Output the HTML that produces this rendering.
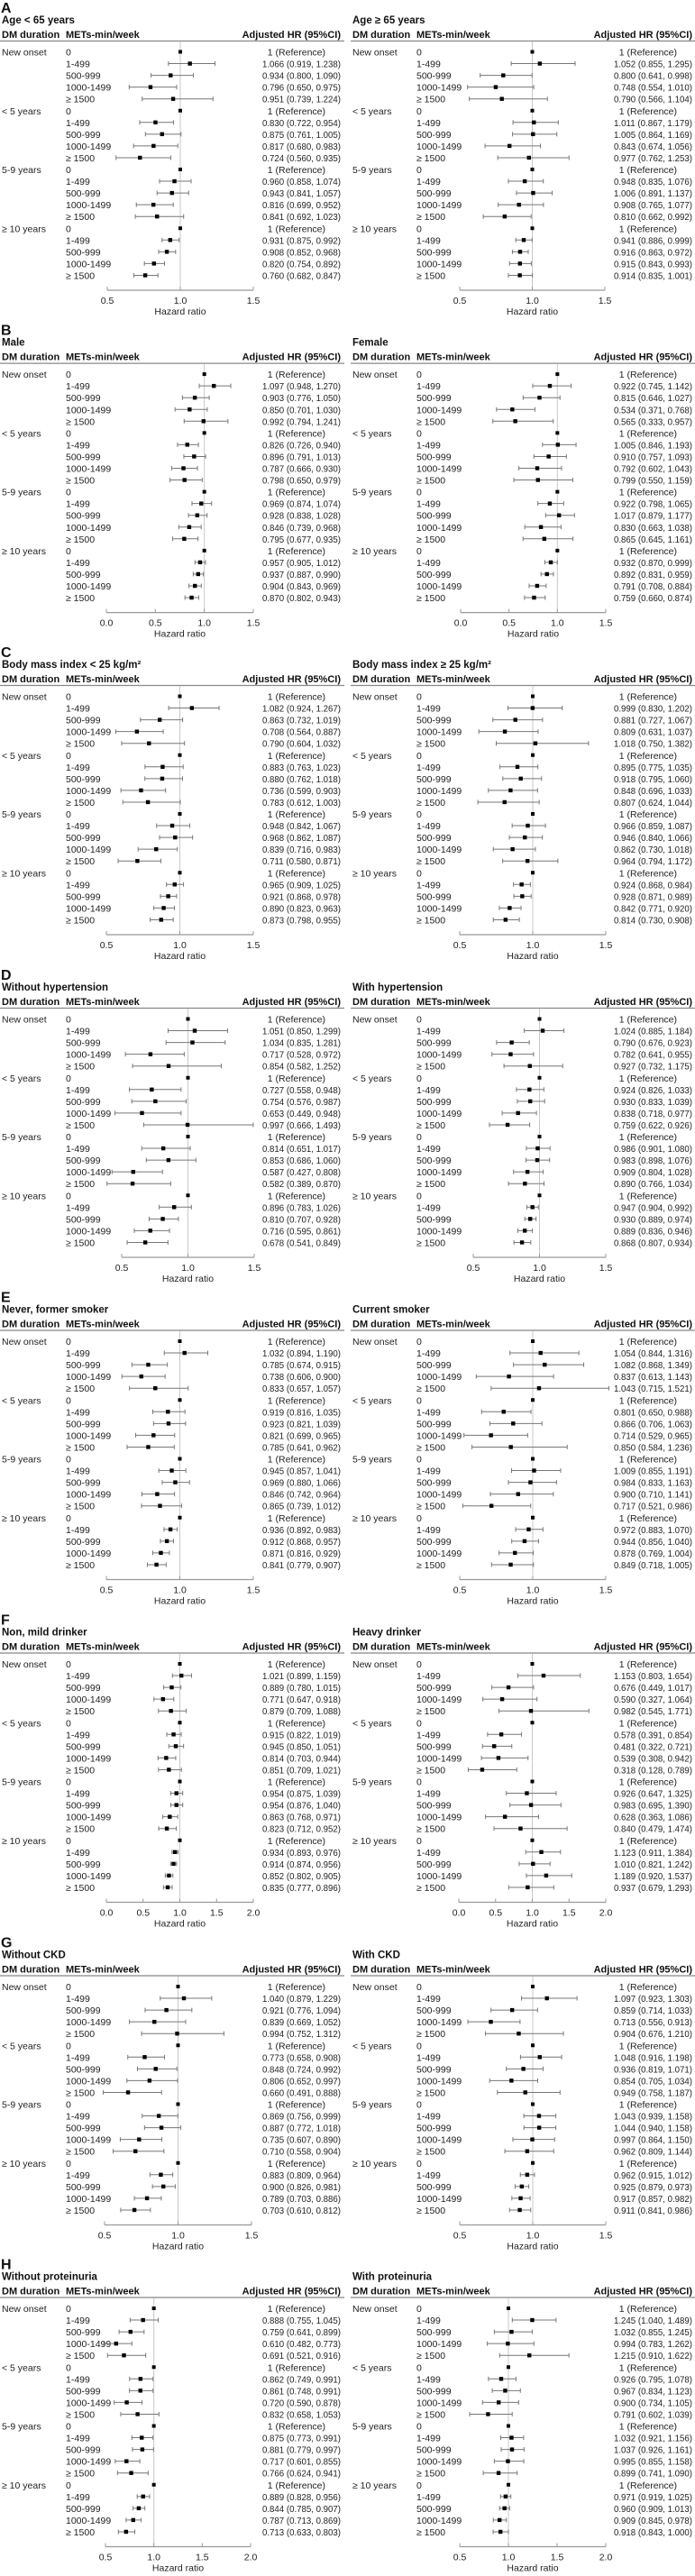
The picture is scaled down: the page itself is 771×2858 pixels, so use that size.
<!DOCTYPE html>
<html><head><meta charset="utf-8">
<style>
html,body{margin:0;padding:0;background:#fff;}
svg{display:block;font-family:"Liberation Sans",sans-serif;}
</style></head>
<body>
<svg id="chart" width="771" height="2858" viewBox="0 0 771 2858" xmlns="http://www.w3.org/2000/svg"></svg>
<script>
const panelLetters = ["A","B","C","D","E","F","G","H"];
const panelTops = [0,357.6,715,1073,1430.5,1788.5,2146.5,2503.5];
const subtitles = [
 ["Age < 65 years","Age \u2265 65 years"],
 ["Male","Female"],
 ["Body mass index < 25 kg/m\u00B2","Body mass index \u2265 25 kg/m\u00B2"],
 ["Without hypertension","With hypertension"],
 ["Never, former smoker","Current smoker"],
 ["Non, mild drinker","Heavy drinker"],
 ["Without CKD","With CKD"],
 ["Without proteinuria","With proteinuria"]
];
const durations = ["New onset","< 5 years","5-9 years","\u2265 10 years"];
const metsCats = ["0","1-499","500-999","1000-1499","\u2265 1500"];
// axis ranges [min,max] per panel, per side
const axisRangeL = [[0.5,1.5],[0,1.5],[0.5,1.5],[0.5,1.5],[0.5,1.5],[0,2],[0.5,1.5],[0.5,2]];
const axisRangeR = [[0.5,1.5],[0,1.5],[0.5,1.5],[0.5,1.5],[0.5,1.5],[0,2],[0.5,1.5],[0.5,2]];
const tickStepL = [0.5,0.5,0.5,0.5,0.5,0.5,0.5,0.5];
// HR, lower, upper for the 16 non-reference rows (per panel, per side)
const hrL = [
 [1.066,0.934,0.796,0.951,0.830,0.875,0.817,0.724,0.960,0.943,0.816,0.841,0.931,0.908,0.820,0.760],
 [1.097,0.903,0.850,0.992,0.826,0.896,0.787,0.798,0.969,0.928,0.846,0.795,0.957,0.937,0.904,0.870],
 [1.082,0.863,0.708,0.790,0.883,0.880,0.736,0.783,0.948,0.968,0.839,0.711,0.965,0.921,0.890,0.873],
 [1.051,1.034,0.717,0.854,0.727,0.754,0.653,0.997,0.814,0.853,0.587,0.582,0.896,0.810,0.716,0.678],
 [1.032,0.785,0.738,0.833,0.919,0.923,0.821,0.785,0.945,0.969,0.846,0.865,0.936,0.912,0.871,0.841],
 [1.021,0.889,0.771,0.879,0.915,0.945,0.814,0.851,0.954,0.954,0.863,0.823,0.934,0.914,0.852,0.835],
 [1.040,0.921,0.839,0.994,0.773,0.848,0.806,0.660,0.869,0.887,0.735,0.710,0.883,0.900,0.789,0.703],
 [0.888,0.759,0.610,0.691,0.862,0.861,0.720,0.832,0.875,0.881,0.717,0.766,0.889,0.844,0.787,0.713]
];
const loL = [
 [0.919,0.800,0.650,0.739,0.722,0.761,0.680,0.560,0.858,0.841,0.699,0.692,0.875,0.852,0.754,0.682],
 [0.948,0.776,0.701,0.794,0.726,0.791,0.666,0.650,0.874,0.838,0.739,0.677,0.905,0.887,0.843,0.802],
 [0.924,0.732,0.564,0.604,0.763,0.762,0.599,0.612,0.842,0.862,0.716,0.580,0.909,0.868,0.823,0.798],
 [0.850,0.835,0.528,0.582,0.558,0.576,0.449,0.666,0.651,0.686,0.427,0.389,0.783,0.707,0.595,0.541],
 [0.894,0.674,0.606,0.657,0.816,0.821,0.699,0.641,0.857,0.880,0.742,0.739,0.892,0.868,0.816,0.779],
 [0.899,0.780,0.647,0.709,0.822,0.850,0.703,0.709,0.875,0.876,0.768,0.712,0.893,0.874,0.802,0.777],
 [0.879,0.776,0.669,0.752,0.658,0.724,0.652,0.491,0.756,0.772,0.607,0.558,0.809,0.826,0.703,0.610],
 [0.755,0.641,0.482,0.521,0.749,0.748,0.590,0.658,0.773,0.779,0.601,0.624,0.828,0.785,0.713,0.633]
];
const hiL = [
 [1.238,1.090,0.975,1.224,0.954,1.005,0.983,0.935,1.074,1.057,0.952,1.023,0.992,0.968,0.892,0.847],
 [1.270,1.050,1.030,1.241,0.940,1.013,0.930,0.979,1.074,1.028,0.968,0.935,1.012,0.990,0.969,0.943],
 [1.267,1.019,0.887,1.032,1.023,1.018,0.903,1.003,1.067,1.087,0.983,0.871,1.025,0.978,0.963,0.955],
 [1.299,1.281,0.972,1.252,0.948,0.987,0.948,1.493,1.017,1.060,0.808,0.870,1.026,0.928,0.861,0.849],
 [1.190,0.915,0.900,1.057,1.035,1.039,0.965,0.962,1.041,1.066,0.964,1.012,0.983,0.957,0.929,0.907],
 [1.159,1.015,0.918,1.088,1.019,1.051,0.944,1.021,1.039,1.040,0.971,0.952,0.976,0.956,0.905,0.896],
 [1.229,1.094,1.052,1.312,0.908,0.992,0.997,0.888,0.999,1.018,0.890,0.904,0.964,0.981,0.886,0.812],
 [1.045,0.899,0.773,0.916,0.991,0.991,0.878,1.053,0.991,0.997,0.855,0.941,0.956,0.907,0.869,0.803]
];
const hrR = [
 [1.052,0.800,0.748,0.790,1.011,1.005,0.843,0.977,0.948,1.006,0.908,0.810,0.941,0.916,0.915,0.914],
 [0.922,0.815,0.534,0.565,1.005,0.910,0.792,0.799,0.922,1.017,0.830,0.865,0.932,0.892,0.791,0.759],
 [0.999,0.881,0.809,1.018,0.895,0.918,0.848,0.807,0.966,0.946,0.862,0.964,0.924,0.928,0.842,0.814],
 [1.024,0.790,0.782,0.927,0.924,0.930,0.838,0.759,0.986,0.983,0.909,0.890,0.947,0.930,0.889,0.868],
 [1.054,1.082,0.837,1.043,0.801,0.866,0.714,0.850,1.009,0.984,0.900,0.717,0.972,0.944,0.878,0.849],
 [1.153,0.676,0.590,0.982,0.578,0.481,0.539,0.318,0.926,0.983,0.628,0.840,1.123,1.010,1.189,0.937],
 [1.097,0.859,0.713,0.904,1.048,0.936,0.854,0.949,1.043,1.044,0.997,0.962,0.962,0.925,0.917,0.911],
 [1.245,1.032,0.994,1.215,0.926,0.967,0.900,0.791,1.032,1.037,0.995,0.899,0.971,0.960,0.909,0.918]
];
const loR = [
 [0.855,0.641,0.554,0.566,0.867,0.864,0.674,0.762,0.835,0.891,0.765,0.662,0.886,0.863,0.843,0.835],
 [0.745,0.646,0.371,0.333,0.846,0.757,0.602,0.550,0.798,0.879,0.663,0.645,0.870,0.831,0.708,0.660],
 [0.830,0.727,0.631,0.750,0.775,0.795,0.696,0.624,0.859,0.840,0.730,0.794,0.868,0.871,0.771,0.730],
 [0.885,0.676,0.641,0.732,0.826,0.833,0.718,0.622,0.901,0.898,0.804,0.766,0.904,0.889,0.836,0.807],
 [0.844,0.868,0.613,0.715,0.650,0.706,0.529,0.584,0.855,0.833,0.710,0.521,0.883,0.856,0.769,0.718],
 [0.803,0.449,0.327,0.545,0.391,0.322,0.308,0.128,0.647,0.695,0.363,0.479,0.911,0.821,0.920,0.679],
 [0.923,0.714,0.556,0.676,0.916,0.819,0.705,0.758,0.939,0.940,0.864,0.809,0.915,0.879,0.857,0.841],
 [1.040,0.855,0.783,0.910,0.795,0.834,0.734,0.602,0.921,0.926,0.855,0.741,0.919,0.909,0.845,0.843]
];
const hiR = [
 [1.295,0.998,1.010,1.104,1.179,1.169,1.056,1.253,1.076,1.137,1.077,0.992,0.999,0.972,0.993,1.001],
 [1.142,1.027,0.768,0.957,1.193,1.093,1.043,1.159,1.065,1.177,1.038,1.161,0.999,0.959,0.884,0.874],
 [1.202,1.067,1.037,1.382,1.035,1.060,1.033,1.044,1.087,1.066,1.018,1.172,0.984,0.989,0.920,0.908],
 [1.184,0.923,0.955,1.175,1.033,1.039,0.977,0.926,1.080,1.076,1.028,1.034,0.992,0.974,0.946,0.934],
 [1.316,1.349,1.143,1.521,0.988,1.063,0.965,1.236,1.191,1.163,1.141,0.986,1.070,1.040,1.004,1.005],
 [1.654,1.017,1.064,1.771,0.854,0.721,0.942,0.789,1.325,1.390,1.086,1.474,1.384,1.242,1.537,1.293],
 [1.303,1.033,0.913,1.210,1.198,1.071,1.034,1.187,1.158,1.158,1.150,1.144,1.012,0.973,0.982,0.986],
 [1.489,1.245,1.262,1.622,1.078,1.123,1.105,1.039,1.156,1.161,1.158,1.090,1.025,1.013,0.978,1.000]
];

const NS = "http://www.w3.org/2000/svg";
const svg = document.getElementById("chart");
function mk(tag, attrs, parent, txt){
  const e = document.createElementNS(NS, tag);
  for (const k in attrs) e.setAttribute(k, attrs[k]);
  if (txt !== undefined) e.textContent = txt;
  (parent||svg).appendChild(e);
  return e;
}
// pixel geometry (layout, not data)
const axisPixL = [[119,281],[118,281],[118,281],[135,282],[118,281],[118,281],[116,279],[117,278]];
const axisPixR = [[510,671],[511,672],[510,672],[525,672],[510,672],[509,672],[510,672],[510,672]];
const ROW0 = 57.5, ROWH = 13.05;

function drawSide(p, side){
  const T = panelTops[p];
  const left = side === 0;
  const ox = left ? 0 : 389;
  const rng = left ? axisRangeL[p] : axisRangeR[p];
  const pix = left ? axisPixL[p] : axisPixR[p];
  const hr = left ? hrL[p] : hrR[p];
  const lo = left ? loL[p] : loR[p];
  const hi = left ? hiL[p] : hiR[p];
  const xs = v => pix[0] + (v - rng[0]) / (rng[1] - rng[0]) * (pix[1] - pix[0]);
  const rightEdge = left ? 378 : 768;
  const g = mk("g", {}, svg);
  
  

  const st = mk("text", {x: ox + 2, y: T + 26, "font-size": 11.5, "font-weight": "bold", fill: "#111"}, g, subtitles[p][side]);
  
  

  const h1 = mk("text", {x: ox + 2, y: T + 42, "font-size": 11, "font-weight": "bold", fill: "#111"}, g, "DM duration");
  
  
  const h2 = mk("text", {x: ox + 73, y: T + 42, "font-size": 11, "font-weight": "bold", fill: "#111"}, g, "METs-min/week");
  
  
  const h3 = mk("text", {x: rightEdge, y: T + 42, "font-size": 11, "font-weight": "bold", fill: "#111", "text-anchor": "end"}, g, "Adjusted HR (95%CI)");
  
  
  const hl = mk("line", {x1: ox, x2: ox + 382, y1: T + 45.5, y2: T + 45.5, stroke: "#888", "stroke-width": 1.2}, g);
  
  

  // reference line at HR = 1
  const axisY = T + 322;
  const rl = mk("line", {x1: xs(1), x2: xs(1), y1: T + 46, y2: axisY, stroke: "#c8c8c8", "stroke-width": 1}, g);
  
  

  let k = 0;
  for (let i = 0; i < 20; i++){
    const cy = T + ROW0 + ROWH * i;
    const d = Math.floor(i / 5), m = i % 5;
    if (m === 0){
      const dt = mk("text", {x: ox + 2, y: cy + 4, "font-size": 10.5, fill: "#222"}, g, durations[d]);
      
      
    }
    const mt = mk("text", {x: ox + 73, y: cy + 4, "font-size": 10.5, fill: "#222"}, g, metsCats[m]);
    
    
    let label;
    if (m === 0){
      label = "1 (Reference)";
      const sq = mk("rect", {x: xs(1) - 2, y: cy - 2, width: 4, height: 4, fill: "#000"}, g);
      
      
      const lt = mk("text", {x: rightEdge - 17, y: cy + 4, "font-size": 10.5, fill: "#222", "text-anchor": "end"}, g, label);
      
      
    } else {
      const v = hr[k], a = lo[k], b = hi[k];
      k++;
      const ci = mk("line", {x1: xs(a), x2: xs(b), y1: cy, y2: cy, stroke: "#777", "stroke-width": 1}, g);
      
      
      for (const e of [a, b]){
        const cap = mk("line", {x1: xs(e), x2: xs(e), y1: cy - 2.5, y2: cy + 2.5, stroke: "#777", "stroke-width": 1}, g);
        
        
      }
      const sq = mk("rect", {x: xs(v) - 2.2, y: cy - 2.2, width: 4.4, height: 4.4, fill: "#000"}, g);
      
      
      label = v.toFixed(3) + " (" + a.toFixed(3) + ", " + b.toFixed(3) + ")";
      const lt = mk("text", {x: rightEdge, y: cy + 4, "font-size": 10.5, fill: "#222", "text-anchor": "end", textLength: 87, lengthAdjust: "spacingAndGlyphs"}, g, label);
      
      
    }
  }
  // x-axis
  const ax = mk("line", {x1: pix[0], x2: pix[1], y1: axisY, y2: axisY, stroke: "#999", "stroke-width": 1.2}, g);
  
  
  const step = tickStepL[p];
  for (let t = rng[0]; t <= rng[1] + 1e-9; t += step){
    const tk = mk("line", {x1: xs(t), x2: xs(t), y1: axisY - 4, y2: axisY, stroke: "#999", "stroke-width": 1}, g);
    
    
    const tl = mk("text", {x: xs(t), y: axisY + 15, "font-size": 10.5, fill: "#222", "text-anchor": "middle"}, g, t.toFixed(1));
    
    
  }
  const xt = mk("text", {x: (pix[0] + pix[1]) / 2, y: axisY + 27, "font-size": 10.5, fill: "#222", "text-anchor": "middle"}, g, "Hazard ratio");
  
  
}

for (let p = 0; p < 8; p++){
  const lt = mk("text", {x: 1, y: panelTops[p] + 14, "font-size": 16, "font-weight": "bold", fill: "#111"}, svg, panelLetters[p]);
  
  
  drawSide(p, 0);
  drawSide(p, 1);
}
</script>
</body></html>
